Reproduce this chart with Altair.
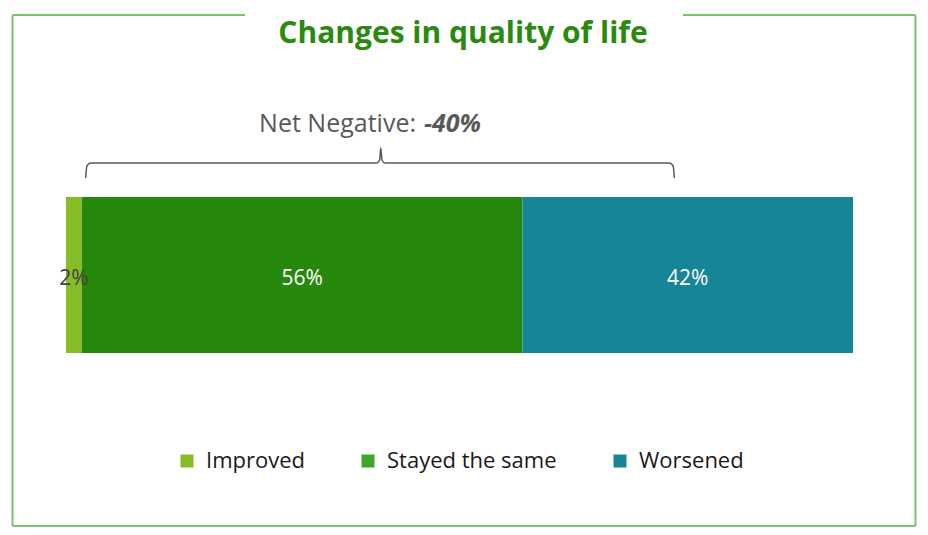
import altair as alt
import pandas as pd

# ---- data ----
categories = ["Improved", "Stayed the same", "Worsened"]
values = [2, 56, 42]
labels = ["2%", "56%", "42%"]
bar_colors = ["#86bc25", "#27880e", "#168595"]
legend_colors = ["#86bc25", "#3aaa24", "#168595"]
label_colors = ["#404040", "#ffffff", "#ffffff"]
title_text = "Changes in quality of life"
net_label = "Net Negative:"
net_value = "-40%"
brace_span = [2.5, 40.0, 77.3]  # start, peak, end in % of the bar axis

# ---- layout ----
W, H = 912, 519
X_RANGE = [58, 845]
BAR_TOP, BAR_BOT = 189, 345
FONT = "Open Sans"
GRAY = "#595959"
BORDER = "#7cc26c"
TITLE_GREEN = "#2a8a10"

df = pd.DataFrame({
    "cat": categories,
    "value": values,
    "label": labels,
    "lc": label_colors,
    "idx": list(range(len(categories))),
})

xscale = alt.Scale(domain=[0, 100], range=X_RANGE)
base = alt.Chart(df)

bars = base.transform_stack(
    stack="value", groupby=[], as_=["v0", "v1"], sort=[alt.SortField("idx")]
).mark_rect().encode(
    x=alt.X("v0:Q", scale=xscale, axis=None),
    x2="v1:Q",
    y=alt.value(BAR_TOP),
    y2=alt.value(BAR_BOT),
    color=alt.Color("cat:N", scale=alt.Scale(domain=categories, range=bar_colors), legend=None),
)

bar_text = base.transform_stack(
    stack="value", groupby=[], as_=["v0", "v1"], sort=[alt.SortField("idx")]
).transform_calculate(mid="(datum.v0 + datum.v1) / 2").mark_text(
    font=FONT, fontSize=21, baseline="middle", align="center"
).encode(
    x=alt.X("mid:Q", scale=xscale, axis=None),
    y=alt.value((BAR_TOP + BAR_BOT) / 2 + 4),
    text="label:N",
    color=alt.Color("lc:N", scale=None),
)

legend_layer = base.mark_square(opacity=0).encode(
    x=alt.value(0),
    y=alt.value(0),
    color=alt.Color(
        "cat:N",
        scale=alt.Scale(domain=categories, range=legend_colors),
        sort=categories,
        legend=alt.Legend(
            title=None, orient="none", legendX=168, legendY=442, direction="horizontal",
            symbolType="square", symbolSize=169, symbolOpacity=1, symbolStrokeWidth=0,
            labelFont=FONT, labelFontSize=22, labelColor="#1a1a1a", labelOffset=8,
            columnPadding=52, labelLimit=400,
        ),
    ),
)

# brace above bar
s, p, e = brace_span
brace_df = pd.DataFrame({
    "x": [s, s + 0.15, s + 0.6, p - 0.5, p - 0.15, p, p + 0.15, p + 0.5, e - 0.6, e - 0.15, e],
    "y": [170, 158, 155, 155, 152, 140, 152, 155, 155, 158, 170],
    "o": list(range(11)),
})
brace = alt.Chart(brace_df).mark_line(color=GRAY, strokeWidth=1.5, interpolate="monotone").encode(
    x=alt.X("x:Q", scale=xscale, axis=None),
    y=alt.Y("y:Q", scale=None, axis=None),
    order="o:Q",
)

net1 = alt.Chart(pd.DataFrame({"t": [net_label]})).mark_text(
    font=FONT, fontSize=25, color=GRAY, align="right", baseline="alphabetic"
).encode(x=alt.value(408), y=alt.value(124), text="t:N")
net2 = alt.Chart(pd.DataFrame({"t": [net_value]})).mark_text(
    font=FONT, fontSize=25, color=GRAY, align="left", baseline="alphabetic",
    fontWeight="bold", fontStyle="italic"
).encode(x=alt.value(416), y=alt.value(124), text="t:N")

title = alt.Chart(pd.DataFrame({"t": [title_text]})).mark_text(
    font=FONT, fontSize=30, fontWeight="bold", color=TITLE_GREEN, align="center", baseline="alphabetic"
).encode(x=alt.value(455), y=alt.value(35), text="t:N")

border_df = pd.DataFrame({
    "x": [4.5, 907.5, 4.5, 4.5, 675],
    "x2": [4.5, 907.5, 907.5, 237, 907.5],
    "y": [7, 7, 518, 7, 7],
    "y2": [518, 518, 518, 7, 7],
})
border = alt.Chart(border_df).mark_rule(color=BORDER, strokeWidth=2).encode(
    x=alt.X("x:Q", scale=None, axis=None),
    x2="x2:Q",
    y=alt.Y("y:Q", scale=None, axis=None),
    y2="y2:Q",
)

chart = alt.layer(
    border, title, net1, net2, brace, bars, bar_text, legend_layer
).resolve_scale(color="independent", x="independent", y="independent").properties(
    width=W, height=H, padding=0, autosize="none", background="white"
).configure_view(stroke=None)

chart.save("out.html", embed_options={"renderer": "svg", "actions": False})
